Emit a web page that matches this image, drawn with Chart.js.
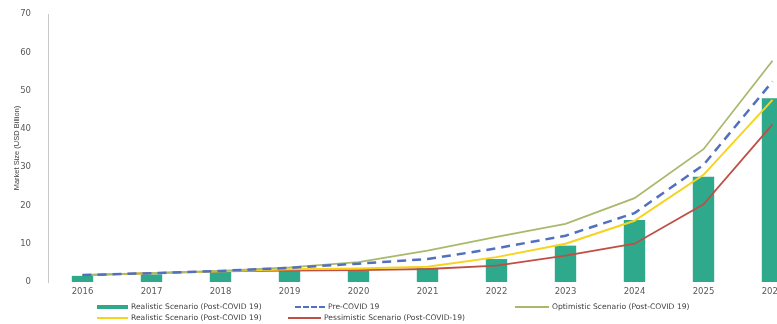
<!DOCTYPE html>
<html>
<head>
<meta charset="utf-8">
<script src="https://cdn.jsdelivr.net/npm/chart.js@4"></script>
<style>
 html, body { margin:0; padding:0; background:#fff; overflow:hidden; }
 #wrap { position:absolute; left:0; top:0; width:807px; height:300px; }
 #legend { position:absolute; left:0; top:0; width:777px; height:324px; pointer-events:none;
           font-family:"DejaVu Sans", sans-serif; font-size:7.6px; color:#404040; }
 .item { position:absolute; white-space:nowrap; line-height:10px; }
 .sw { position:absolute; top:50%; }
</style>
</head>
<body>
<div id="wrap"><canvas id="marketChart"></canvas></div>
<div id="legend"></div>
<script>
'use strict';

var categories = ['2016','2017','2018','2019','2020','2021','2022','2023','2024','2025','2026'];
var realisticBars = [1.6, 2.0, 2.6, 3.0, 3.0, 3.6, 6.0, 9.5, 16.2, 27.5, 48.0];
var preCovid = [1.8, 2.3, 2.9, 3.7, 4.8, 6.0, 8.8, 12.1, 18.0, 30.6, 52.4];
var optimistic = [1.8, 2.3, 2.9, 3.8, 5.2, 8.2, 11.8, 15.2, 21.9, 34.7, 57.8];
var realisticLine = [1.8, 2.3, 2.8, 3.3, 3.5, 4.0, 6.5, 10.0, 16.0, 28.0, 47.6];
var pessimistic = [1.8, 2.3, 2.8, 3.0, 3.1, 3.4, 4.3, 6.9, 10.0, 20.3, 41.2];
var yMax = 70;
var yStep = 10;

var tickFont = { family: 'DejaVu Sans', size: 8.5 };

var theChart = new Chart('marketChart', {
  data: {
    labels: categories,
    datasets: [
      { type: 'bar', label: 'Realistic Scenario (Post-COVID 19)', data: realisticBars,
        backgroundColor: '#2fa98b', barPercentage: 0.31, categoryPercentage: 1, order: 2 },
      { type: 'line', label: 'Pre-COVID 19', data: preCovid,
        borderColor: '#5270c0', borderWidth: 2.5, borderDash: [9, 6], pointRadius: 0, tension: 0, order: 1 },
      { type: 'line', label: 'Optimistic Scenario (Post-COVID 19)', data: optimistic,
        borderColor: '#a9b96c', borderWidth: 1.8, pointRadius: 0, tension: 0, order: 1 },
      { type: 'line', label: 'Realistic Scenario (Post-COVID 19)', data: realisticLine,
        borderColor: '#f6d31c', borderWidth: 2, pointRadius: 0, tension: 0, order: 1 },
      { type: 'line', label: 'Pessimistic Scenario (Post-COVID-19)', data: pessimistic,
        borderColor: '#bf4f45', borderWidth: 1.8, pointRadius: 0, tension: 0, order: 1 }
    ]
  },
  options: {
    responsive: true,
    maintainAspectRatio: false,
    animation: false,
    layout: { padding: { top: 10, left: 0, right: 0, bottom: 0 } },
    plugins: { legend: { display: false }, tooltip: { enabled: false } },
    scales: {
      x: {
        grid: { display: false },
        border: { display: false },
        ticks: { color: '#595959', font: tickFont, padding: -3, maxRotation: 0, autoSkip: false },
        afterFit: function (scale) { scale.height = 18; }
      },
      y: {
        min: 0,
        max: yMax,
        grid: { display: false },
        border: { display: true, color: '#c8c8c8', width: 1 },
        ticks: { stepSize: yStep, color: '#595959', font: tickFont, padding: 9 },
        title: { display: true, text: 'Market Size (USD Billion)', color: '#404040',
                 font: { family: 'Liberation Sans', size: 7.5 }, padding: { top: 12, bottom: 0 } },
        afterFit: function (scale) { scale.width = 48; }
      }
    }
  }
});

// legend laid out like the spreadsheet one, two rows
var legendSlots = [
  { ds: 0, left: 97, top: 302, sw: 31 },
  { ds: 1, left: 295, top: 302, sw: 30 },
  { ds: 2, left: 515, top: 302, sw: 34 },
  { ds: 3, left: 97, top: 313, sw: 31 },
  { ds: 4, left: 288, top: 313, sw: 33 }
];
var legendDiv = document.getElementById('legend');
legendSlots.forEach(function (slot) {
  var ds = theChart.data.datasets[slot.ds];
  var item = document.createElement('div');
  item.className = 'item';
  item.style.left = slot.left + 'px';
  item.style.top = slot.top + 'px';
  item.style.paddingLeft = (slot.sw + 3) + 'px';
  var sw = document.createElement('span');
  sw.className = 'sw';
  sw.style.left = '0px';
  sw.style.width = slot.sw + 'px';
  if (ds.type === 'bar') {
    sw.style.height = '4px';
    sw.style.marginTop = '-2px';
    sw.style.background = ds.backgroundColor;
  } else if (ds.borderDash) {
    sw.style.height = '0px';
    sw.style.marginTop = '-1px';
    sw.style.borderTop = '2px dashed ' + ds.borderColor;
  } else {
    sw.style.height = '2px';
    sw.style.marginTop = '-1px';
    sw.style.background = ds.borderColor;
  }
  item.appendChild(sw);
  item.appendChild(document.createTextNode(ds.label));
  legendDiv.appendChild(item);
});
</script>
</body>
</html>
